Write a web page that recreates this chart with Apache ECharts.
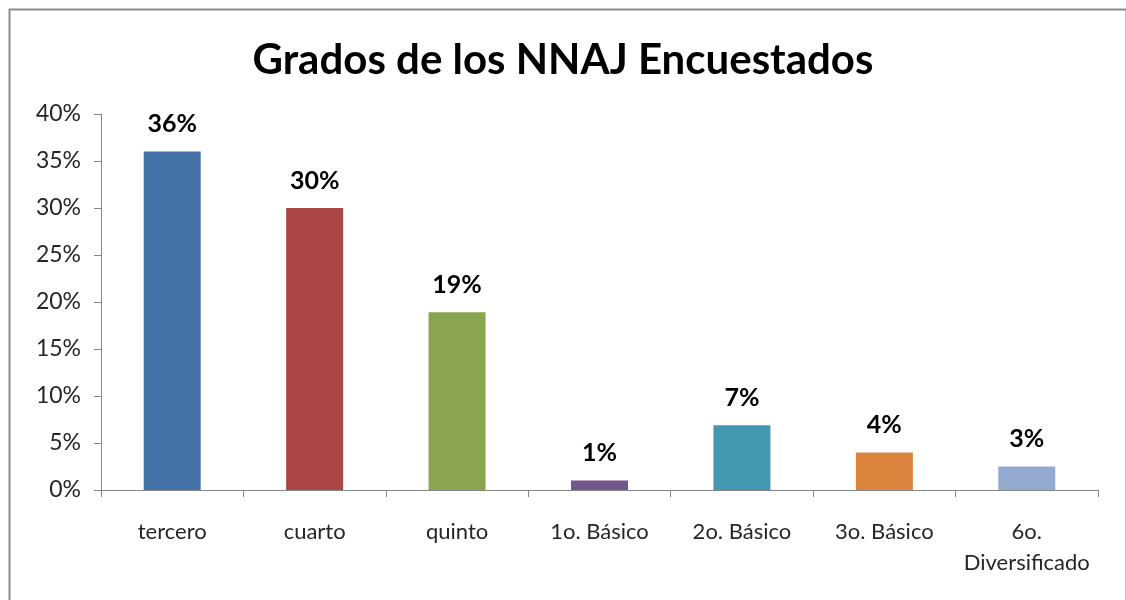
<!DOCTYPE html>
<html><head><meta charset="utf-8">
<script src="https://cdn.jsdelivr.net/npm/echarts@6/dist/echarts.min.js"></script>
<style>html,body{margin:0;padding:0;background:#fff}#c{width:1126px;height:600px}</style>
</head><body><div id="c"></div>
<script>
const titleText = "Grados de los NNAJ Encuestados";
const categories = ["tercero", "cuarto", "quinto", "1o. Básico", "2o. Básico", "3o. Básico", "6o.\nDiversificado"];
const values = [0.36, 0.30, 0.189, 0.01, 0.069, 0.04, 0.025];
const colors = ["#4572A7", "#AA4643", "#89A54E", "#71588F", "#4198AF", "#DB843D", "#93A9CF"];
const yTicks = [0, 0.05, 0.10, 0.15, 0.20, 0.25, 0.30, 0.35, 0.40];

const font = "Lato, 'Open Sans', sans-serif";
const chart = echarts.init(document.getElementById('c'), null, {renderer: 'canvas'});
chart.setOption({
  animation: false,
  backgroundColor: '#fff',
  title: {
    text: titleText, left: 'center', top: 34,
    textStyle: {fontFamily: font, fontSize: 42, fontWeight: 'bold', color: '#000'}
  },
  graphic: [{
    type: 'rect', left: 7, top: 7, silent: true,
    shape: {width: 1117, height: 600},
    style: {fill: 'none', stroke: '#8c8c8c', lineWidth: 2}
  }],
  grid: {left: 101, right: 28, top: 114, bottom: 110, containLabel: false},
  xAxis: {
    type: 'category', data: categories, boundaryGap: true,
    axisLine: {lineStyle: {color: '#868686', width: 1}},
    axisTick: {show: true, alignWithLabel: false, length: 7, lineStyle: {color: '#868686'}},
    axisLabel: {fontFamily: font, fontSize: 22, color: '#262626', margin: 26, lineHeight: 31, interval: 0}
  },
  yAxis: {
    type: 'value', min: 0, max: 0.40, interval: 0.05,
    axisLine: {show: true, lineStyle: {color: '#868686', width: 1}},
    axisTick: {show: true, inside: false, length: 7, lineStyle: {color: '#868686'}},
    splitLine: {show: false},
    axisLabel: {
      fontFamily: font, fontSize: 23, color: '#262626', margin: 20,
      formatter: v => { const m = yTicks.find(t => Math.abs(t - v) < 1e-9); return Math.round((m ?? v) * 100) + '%'; }
    }
  },
  series: [{
    type: 'bar', barWidth: 57,
    data: values.map((v, i) => ({value: v, itemStyle: {color: colors[i]}})),
    label: {
      show: true, position: 'top', distance: 15,
      fontFamily: font, fontSize: 25, fontWeight: 'bold', color: '#000',
      formatter: p => Math.round(p.value * 100) + '%'
    }
  }]
});
</script></body></html>
